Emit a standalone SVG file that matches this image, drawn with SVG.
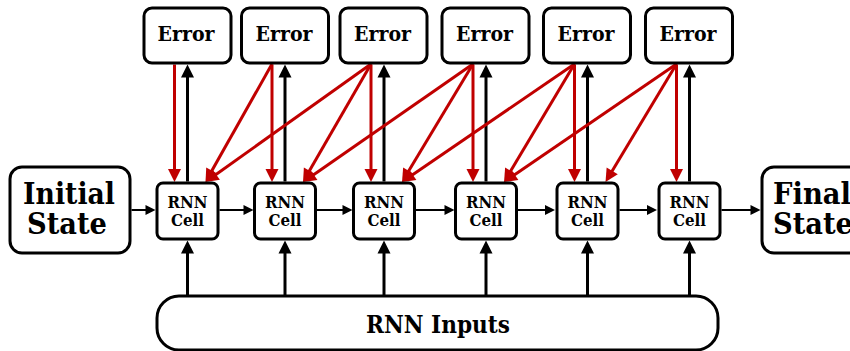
<svg xmlns="http://www.w3.org/2000/svg" width="850" height="351" viewBox="0 0 850 351" font-family="DejaVu Serif, Liberation Serif, Times New Roman, serif" font-weight="bold">
  <style>
    .box { fill: #fff; stroke: #000; stroke-width: 3; }
    text { fill: #000; text-anchor: middle; }
    .err { font-size: 19.5px; }
    .cell { font-size: 17px; }
    .state { font-size: 29px; }
    .inp { font-size: 23.5px; }
    .red { stroke: #C00000; stroke-width: 3; fill: none; marker-end: url(#headRed); }
    .blk { stroke: #000; stroke-width: 3; fill: none; marker-end: url(#headBlk); }
    .flow { stroke: #000; stroke-width: 2; fill: none; marker-end: url(#headSmall); }
  </style>
  <defs>
    <marker id="headRed" markerUnits="userSpaceOnUse" orient="auto" refX="1" refY="0" markerWidth="14" markerHeight="14" viewBox="0 -7 14 14" overflow="visible">
      <path d="M0,-6.5 L13,0 L0,6.5 Z" fill="#C00000"/>
    </marker>
    <marker id="headBlk" markerUnits="userSpaceOnUse" orient="auto" refX="1" refY="0" markerWidth="14" markerHeight="14" viewBox="0 -7 14 14" overflow="visible">
      <path d="M0,-6.5 L13,0 L0,6.5 Z" fill="#000"/>
    </marker>
    <marker id="headSmall" markerUnits="userSpaceOnUse" orient="auto" refX="1" refY="0" markerWidth="12" markerHeight="12" viewBox="0 -6 12 12" overflow="visible">
      <path d="M0,-5 L10,0 L0,5 Z" fill="#000"/>
    </marker>
  </defs>

  <!-- connectors -->
  <g id="connectors">
    <!-- hidden state flow -->
    <line class="flow" x1="131.5" y1="210" x2="146.5" y2="210"/>
    <line class="flow" x1="219.5" y1="210" x2="244.5" y2="210"/>
    <line class="flow" x1="317" y1="210" x2="343.5" y2="210"/>
    <line class="flow" x1="416" y1="210" x2="445.5" y2="210"/>
    <line class="flow" x1="518" y1="210" x2="546" y2="210"/>
    <line class="flow" x1="619.5" y1="210" x2="648" y2="210"/>
    <line class="flow" x1="721.5" y1="210" x2="751.5" y2="210"/>

    <!-- inputs to cells -->
    <line class="blk" x1="187.5" y1="296" x2="187.5" y2="252.5"/>
    <line class="blk" x1="285" y1="296" x2="285" y2="252.5"/>
    <line class="blk" x1="384" y1="296" x2="384" y2="252.5"/>
    <line class="blk" x1="486" y1="296" x2="486" y2="252.5"/>
    <line class="blk" x1="587.5" y1="296" x2="587.5" y2="252.5"/>
    <line class="blk" x1="689.5" y1="296" x2="689.5" y2="252.5"/>

    <!-- cell outputs to errors -->
    <line class="blk" x1="187.5" y1="181.5" x2="187.5" y2="76.5"/>
    <line class="blk" x1="285" y1="181.5" x2="285" y2="76.5"/>
    <line class="blk" x1="384" y1="181.5" x2="384" y2="76.5"/>
    <line class="blk" x1="486" y1="181.5" x2="486" y2="76.5"/>
    <line class="blk" x1="587.5" y1="181.5" x2="587.5" y2="76.5"/>
    <line class="blk" x1="689.5" y1="181.5" x2="689.5" y2="76.5"/>

    <!-- error gradients straight down -->
    <line class="red" x1="174.5" y1="64.5" x2="174.5" y2="170"/>
    <line class="red" x1="272" y1="64.5" x2="272" y2="170"/>
    <line class="red" x1="371" y1="64.5" x2="371" y2="170"/>
    <line class="red" x1="473" y1="64.5" x2="473" y2="170"/>
    <line class="red" x1="574.5" y1="64.5" x2="574.5" y2="170"/>
    <line class="red" x1="676.5" y1="64.5" x2="676.5" y2="170"/>

    <!-- error gradients to earlier cells -->
    <line class="red" x1="272" y1="64" x2="211.4" y2="171.5"/>
    <line class="red" x1="371" y1="64" x2="215.3" y2="175.0"/>
    <line class="red" x1="371" y1="64" x2="309.0" y2="171.6"/>
    <line class="red" x1="473" y1="64" x2="312.9" y2="175.2"/>
    <line class="red" x1="473" y1="64" x2="408.2" y2="171.7"/>
    <line class="red" x1="574.5" y1="64" x2="411.9" y2="175.2"/>
    <line class="red" x1="574.5" y1="64" x2="510.2" y2="171.7"/>
    <line class="red" x1="676.5" y1="64" x2="513.9" y2="175.2"/>
    <line class="red" x1="676.5" y1="64" x2="611.7" y2="171.7"/>
  </g>

  <!-- error nodes -->
  <g id="error1"><rect class="box" x="144" y="8" width="87" height="55" rx="8"/><text class="err" x="186" y="41" textLength="57" lengthAdjust="spacingAndGlyphs">Error</text></g>
  <g id="error2"><rect class="box" x="241.5" y="8" width="87" height="55" rx="8"/><text class="err" x="284" y="41" textLength="57" lengthAdjust="spacingAndGlyphs">Error</text></g>
  <g id="error3"><rect class="box" x="340" y="8" width="87" height="55" rx="8"/><text class="err" x="382.5" y="41" textLength="57" lengthAdjust="spacingAndGlyphs">Error</text></g>
  <g id="error4"><rect class="box" x="442" y="8" width="87" height="55" rx="8"/><text class="err" x="484.5" y="41" textLength="57" lengthAdjust="spacingAndGlyphs">Error</text></g>
  <g id="error5"><rect class="box" x="543.5" y="8" width="87" height="55" rx="8"/><text class="err" x="586" y="41" textLength="57" lengthAdjust="spacingAndGlyphs">Error</text></g>
  <g id="error6"><rect class="box" x="645.5" y="8" width="87" height="55" rx="8"/><text class="err" x="688" y="41" textLength="57" lengthAdjust="spacingAndGlyphs">Error</text></g>

  <!-- RNN cells -->
  <g id="cell1"><rect class="box" x="157" y="183" width="61" height="56" rx="6"/><text class="cell" x="187.5" y="208" textLength="40" lengthAdjust="spacingAndGlyphs">RNN</text><text class="cell" x="187.5" y="226" textLength="33" lengthAdjust="spacingAndGlyphs">Cell</text></g>
  <g id="cell2"><rect class="box" x="254.5" y="183" width="61" height="56" rx="6"/><text class="cell" x="285" y="208" textLength="40" lengthAdjust="spacingAndGlyphs">RNN</text><text class="cell" x="285" y="226" textLength="33" lengthAdjust="spacingAndGlyphs">Cell</text></g>
  <g id="cell3"><rect class="box" x="353.5" y="183" width="61" height="56" rx="6"/><text class="cell" x="384" y="208" textLength="40" lengthAdjust="spacingAndGlyphs">RNN</text><text class="cell" x="384" y="226" textLength="33" lengthAdjust="spacingAndGlyphs">Cell</text></g>
  <g id="cell4"><rect class="box" x="455.5" y="183" width="61" height="56" rx="6"/><text class="cell" x="486" y="208" textLength="40" lengthAdjust="spacingAndGlyphs">RNN</text><text class="cell" x="486" y="226" textLength="33" lengthAdjust="spacingAndGlyphs">Cell</text></g>
  <g id="cell5"><rect class="box" x="557" y="183" width="61" height="56" rx="6"/><text class="cell" x="587.5" y="208" textLength="40" lengthAdjust="spacingAndGlyphs">RNN</text><text class="cell" x="587.5" y="226" textLength="33" lengthAdjust="spacingAndGlyphs">Cell</text></g>
  <g id="cell6"><rect class="box" x="659" y="183" width="61" height="56" rx="6"/><text class="cell" x="689.5" y="208" textLength="40" lengthAdjust="spacingAndGlyphs">RNN</text><text class="cell" x="689.5" y="226" textLength="33" lengthAdjust="spacingAndGlyphs">Cell</text></g>

  <!-- states -->
  <g id="initial-state"><rect class="box" x="10" y="167" width="120" height="86" rx="12"/><text class="state" x="69" y="203.5" textLength="92" lengthAdjust="spacingAndGlyphs">Initial</text><text class="state" x="67" y="234" textLength="80" lengthAdjust="spacingAndGlyphs">State</text></g>
  <g id="final-state"><rect class="box" x="762" y="167" width="120" height="86" rx="12"/><text class="state" x="812" y="203.5" textLength="78" lengthAdjust="spacingAndGlyphs">Final</text><text class="state" x="813" y="234" textLength="80" lengthAdjust="spacingAndGlyphs">State</text></g>

  <!-- inputs -->
  <g id="rnn-inputs"><rect class="box" x="157" y="296" width="561" height="54" rx="22"/><text class="inp" x="438" y="333" textLength="144" lengthAdjust="spacingAndGlyphs">RNN Inputs</text></g>
</svg>
